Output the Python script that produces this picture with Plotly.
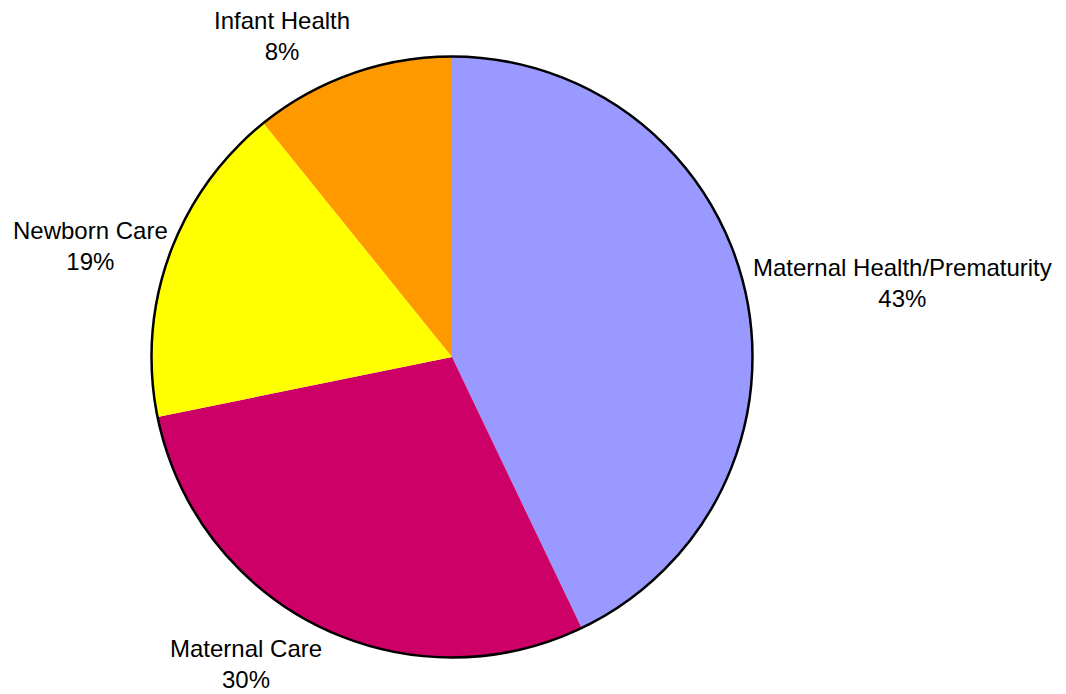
import plotly.graph_objects as go

categories = ["Maternal Health/Prematurity", "Maternal Care", "Newborn Care", "Infant Health"]
values = [42.9, 28.9, 17.4, 10.8]
pct_labels = ["43%", "30%", "19%", "8%"]
colors = ["#9999FF", "#CC0066", "#FFFF00", "#FF9900"]

# label anchor centres in pixels (text placement only)
label_pos = [(902, 283), (246, 664), (90, 246), (282, 36)]

W, H = 1066, 694
cx, cy, r = 452, 357, 300.5
dom_x = [(cx - r) / W, (cx + r) / W]
dom_y = [(H - cy - r) / H, (H - cy + r) / H]

fig = go.Figure()
fig.add_trace(go.Pie(
    labels=categories, values=values, sort=False, direction="clockwise",
    rotation=0, marker=dict(colors=colors, line=dict(width=0)),
    textinfo="none", hoverinfo="label+percent", showlegend=False,
    domain=dict(x=dom_x, y=dom_y),
))
fig.add_trace(go.Pie(
    labels=["outline"], values=[1], sort=False,
    marker=dict(colors=["rgba(0,0,0,0)"], line=dict(color="black", width=2.5)),
    textinfo="none", hoverinfo="skip", showlegend=False,
    domain=dict(x=dom_x, y=dom_y),
))

for cat, pl, (px, py) in zip(categories, pct_labels, label_pos):
    fig.add_annotation(
        x=px / W, y=1 - py / H, xref="paper", yref="paper",
        text=f"{cat}<br>{pl}", showarrow=False, align="center",
        xanchor="center", yanchor="middle", borderpad=0,
        font=dict(family="Liberation Sans, Arial, sans-serif", size=24, color="black"),
    )

fig.update_layout(
    width=W, height=H, autosize=False,
    margin=dict(l=0, r=0, t=0, b=0),
    paper_bgcolor="white", plot_bgcolor="white",
)
fig.write_html("out.html", config={"displayModeBar": False},
               post_script="document.body.style.margin='0';")
